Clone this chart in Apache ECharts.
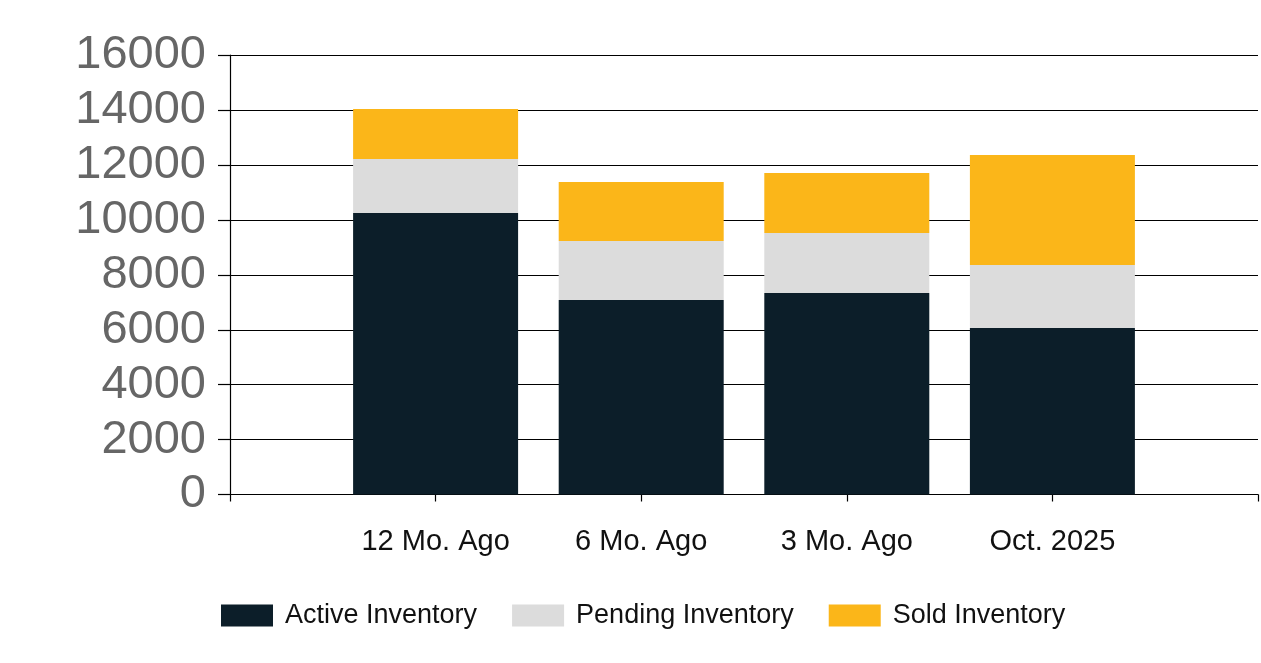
<!DOCTYPE html>
<html>
<head>
<meta charset="utf-8">
<script src="https://cdn.jsdelivr.net/npm/echarts@6/dist/echarts.min.js"></script>
<style>html,body{margin:0;padding:0;background:#fff;}#c{width:1261px;height:663px;}</style>
</head>
<body>
<div id="c"></div>
<script>
const categories = ['12 Mo. Ago', '6 Mo. Ago', '3 Mo. Ago', 'Oct. 2025'];
const activeInventory = [10250, 7080, 7340, 6060];
const pendingInventory = [1970, 2150, 2185, 2300];
const soldInventory = [1820, 2150, 2185, 4005];
const yTicks = [0, 2000, 4000, 6000, 8000, 10000, 12000, 14000, 16000];

const pad = arr => [null].concat(arr, [null]);
const font = '"Liberation Sans", Arial, sans-serif';

const chart = echarts.init(document.getElementById('c'));
chart.setOption({
  animation: false,
  backgroundColor: '#fff',
  grid: { left: 230, right: 3, top: 55.2, bottom: 168.5, containLabel: false },
  legend: {
    left: 216, top: 597,
    itemWidth: 52, itemHeight: 22, itemGap: 35,
    icon: 'rect',
    textStyle: { fontFamily: font, fontSize: 27, color: '#111', padding: [0, 0, 0, 7] },
    data: ['Active Inventory', 'Pending Inventory', 'Sold Inventory']
  },
  xAxis: {
    type: 'category',
    boundaryGap: false,
    data: [''].concat(categories, ['']),
    axisLine: { show: true, lineStyle: { color: '#000', width: 1.2 } },
    axisTick: { show: true, length: 7, lineStyle: { color: '#000', width: 1.2 } },
    axisLabel: { fontFamily: font, fontSize: 29, color: '#111', margin: 33, interval: 0 }
  },
  yAxis: {
    type: 'value',
    min: yTicks[0], max: yTicks[yTicks.length - 1], interval: 2000,
    axisLine: { show: true, lineStyle: { color: '#000', width: 1.2 } },
    axisTick: { show: true, length: 12, lineStyle: { color: '#000', width: 1.2 } },
    splitLine: { show: true, lineStyle: { color: '#000', width: 1.2 } },
    axisLabel: { fontFamily: font, fontSize: 47, color: '#666', margin: 24, padding: [0, 0, 6, 0], formatter: v => String(v) }
  },
  series: [
    { name: 'Active Inventory', type: 'bar', stack: 'inv', barWidth: 165, data: pad(activeInventory), itemStyle: { color: '#0c1e29' } },
    { name: 'Pending Inventory', type: 'bar', stack: 'inv', barWidth: 165, data: pad(pendingInventory), itemStyle: { color: '#dcdcdc' } },
    { name: 'Sold Inventory', type: 'bar', stack: 'inv', barWidth: 165, data: pad(soldInventory), itemStyle: { color: '#fbb619' } }
  ]
});
</script>
</body>
</html>
